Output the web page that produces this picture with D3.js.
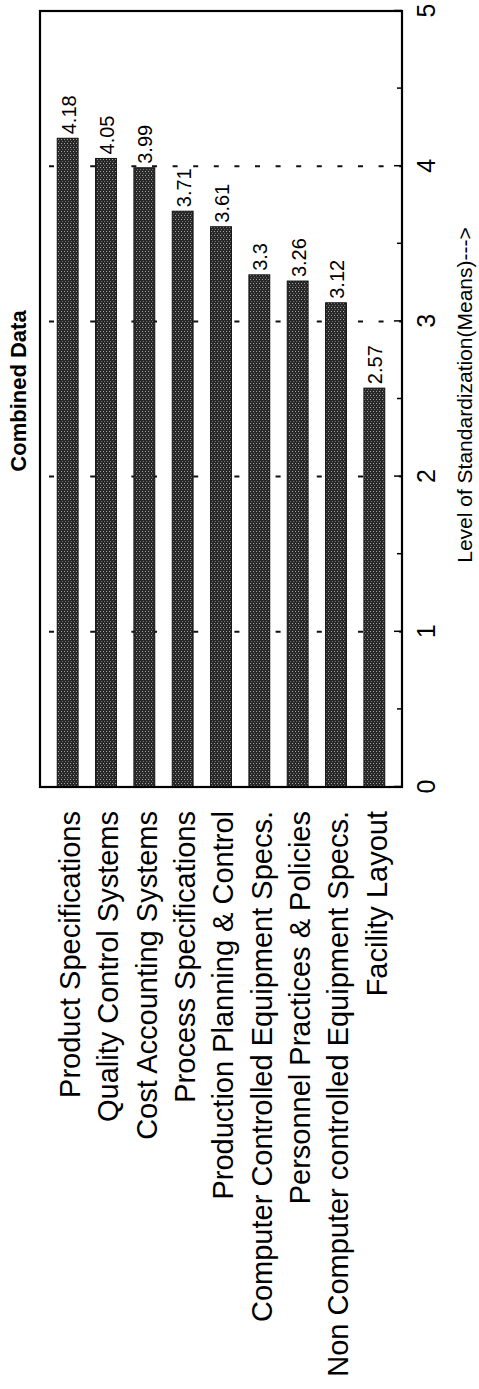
<!DOCTYPE html>
<html>
<head>
<meta charset="utf-8">
<script src="https://cdn.jsdelivr.net/npm/d3@7"></script>
<style>
  body { margin: 0; background: #fff; }
  svg { display: block; font-family: "Liberation Sans", Arial, Helvetica, sans-serif; }
</style>
</head>
<body>
<div id="chart"></div>
<script>
var categories = [
	"Product Specifications",
	"Quality Control Systems",
	"Cost Accounting Systems",
	"Process Specifications",
	"Production Planning & Control",
	"Computer Controlled Equipment Specs.",
	"Personnel Practices & Policies",
	"Non Computer controlled Equipment Specs.",
	"Facility Layout"
];
var means = [4.18, 4.05, 3.99, 3.71, 3.61, 3.3, 3.26, 3.12, 2.57];
var majorTicks = [0, 1, 2, 3, 4, 5];
var minorTicks = [0.5, 1.5, 2.5, 3.5, 4.5];
var gridValues = [1, 2, 3, 4];

var W = 479, H = 1389;

var svg = d3.select("#chart")
	.append("svg")
	.attr("width", W)
	.attr("height", H);

// pattern for the stippled bars
var pat = svg.append("defs").append("pattern")
	.attr("id", "stipple")
	.attr("width", 4)
	.attr("height", 3)
	.attr("patternUnits", "userSpaceOnUse");
pat.append("rect").attr("width", 4).attr("height", 3).attr("fill", "#282828");
pat.append("rect").attr("x", 1).attr("y", 1).attr("width", 1).attr("height", 1).attr("fill", "#a0a0a0");
pat.append("rect").attr("x", 3).attr("y", 2).attr("width", 1).attr("height", 1).attr("fill", "#707070");

// the chart is a horizontal bar chart turned a quarter turn to the left
var g = svg.append("g")
	.attr("transform", "translate(0," + H + ") rotate(-90)");

var x = d3.scaleLinear()
	.domain([0, 5])
	.range([602, 1378]);

var y = d3.scaleBand()
	.domain(categories)
	.range([40, 402])
	.paddingInner(0.456)
	.paddingOuter(0.45);

var data = categories.map((c, i) => ({cat: c, val: means[i]}));

// dashed gridlines
g.selectAll(".grid")
	.data(gridValues)
	.enter()
	.append("line")
	.attr("class", "grid")
	.attr("x1", d => x(d))
	.attr("x2", d => x(d))
	.attr("y1", y.range()[0])
	.attr("y2", y.range()[1])
	.attr("stroke", "#111")
	.attr("stroke-width", 2)
	.attr("stroke-dasharray", "5,15.6")
	.attr("stroke-dashoffset", 11.6);

// bars
g.selectAll(".bar")
	.data(data)
	.enter()
	.append("rect")
	.attr("class", "bar")
	.attr("x", x(0))
	.attr("y", d => y(d.cat))
	.attr("width", d => x(d.val) - x(0))
	.attr("height", y.bandwidth())
	.attr("fill", "url(#stipple)")
	.attr("stroke", "#111")
	.attr("stroke-width", 1);

// value labels
g.selectAll(".val")
	.data(data)
	.enter()
	.append("text")
	.attr("class", "val")
	.attr("x", d => x(d.val) + 4)
	.attr("y", d => y(d.cat) + y.bandwidth() / 2)
	.attr("dy", "0.4em")
	.style("font-size", "20px")
	.style("text-anchor", "start")
	.attr("fill", "#000")
	.text(d => String(d.val));

// category labels
g.selectAll(".cat")
	.data(data)
	.enter()
	.append("text")
	.attr("class", "cat")
	.attr("x", 578)
	.attr("y", d => y(d.cat) + y.bandwidth() / 2)
	.attr("dy", "0.42em")
	.style("font-size", "29px")
	.style("text-anchor", "end")
	.attr("fill", "#000")
	.text(d => d.cat);

// value axis along the bottom edge of the frame
var axis = g.append("g")
	.attr("transform", "translate(0," + y.range()[1] + ")")
	.call(d3.axisBottom(x).tickValues(majorTicks).tickSize(-8).tickPadding(15).tickFormat(d3.format("d")));
axis.select(".domain").remove();
axis.selectAll("line").attr("stroke", "#000").attr("stroke-width", 1.5);
axis.selectAll("text").style("font-size", "25px").attr("fill", "#000");

var minor = g.append("g")
	.attr("transform", "translate(0," + y.range()[1] + ")")
	.call(d3.axisBottom(x).tickValues(minorTicks).tickSize(-5).tickFormat(""));
minor.select(".domain").remove();
minor.selectAll("line").attr("stroke", "#000").attr("stroke-width", 1.5);

// frame
g.append("rect")
	.attr("x", x(0))
	.attr("y", y.range()[0])
	.attr("width", x(5) - x(0))
	.attr("height", y.range()[1] - y.range()[0])
	.attr("fill", "none")
	.attr("stroke", "#000")
	.attr("stroke-width", 2.2);

// title
g.append("text")
	.attr("x", 998)
	.attr("y", 26)
	.style("font-size", "22px")
	.style("font-weight", "bold")
	.style("text-anchor", "middle")
	.text("Combined Data");

// axis title
g.append("text")
	.attr("x", 994)
	.attr("y", 472)
	.style("font-size", "21px")
	.style("text-anchor", "middle")
	.text("Level of Standardization(Means)--->");
</script>
</body>
</html>
